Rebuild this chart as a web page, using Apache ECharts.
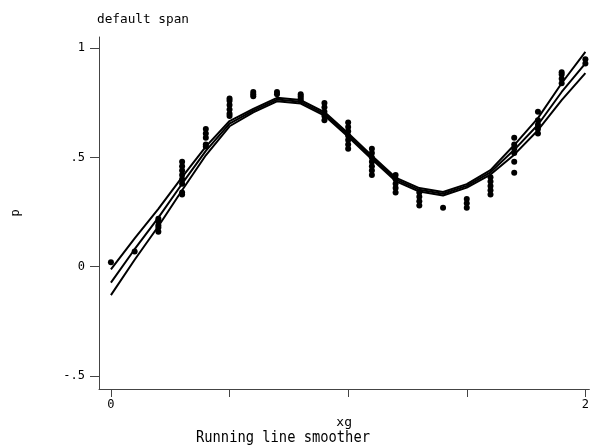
<!DOCTYPE html>
<html>
<head>
<meta charset="utf-8">
<script src="https://cdn.jsdelivr.net/npm/echarts@6/dist/echarts.min.js"></script>
<style>html,body{margin:0;padding:0;background:#fff}#c{width:592px;height:448px}</style>
</head>
<body>
<div id="c"></div>
<script>
// x grid values
var xs = [0, 0.1, 0.2, 0.3, 0.4, 0.5, 0.6, 0.7, 0.8, 0.9, 1.0, 1.1, 1.2, 1.3, 1.4, 1.5, 1.6, 1.7, 1.8, 1.9, 2.0];
// observed p values at each xg
var pObs = [
  [0.02],
  [0.07],
  [0.22, 0.21, 0.19, 0.18, 0.16],
  [0.48, 0.46, 0.44, 0.42, 0.40, 0.38, 0.34, 0.33],
  [0.63, 0.61, 0.59, 0.56, 0.55],
  [0.77, 0.76, 0.74, 0.72, 0.70, 0.69],
  [0.80, 0.79, 0.78],
  [0.80, 0.79],
  [0.79, 0.78, 0.77, 0.76],
  [0.75, 0.73, 0.71, 0.69, 0.67],
  [0.66, 0.64, 0.62, 0.60, 0.58, 0.56, 0.54],
  [0.54, 0.52, 0.50, 0.48, 0.46, 0.44, 0.42],
  [0.42, 0.40, 0.38, 0.36, 0.34],
  [0.34, 0.32, 0.30, 0.28],
  [0.27],
  [0.31, 0.29, 0.27],
  [0.41, 0.39, 0.37, 0.35, 0.33],
  [0.59, 0.56, 0.54, 0.52, 0.48, 0.43],
  [0.71, 0.67, 0.65, 0.63, 0.61],
  [0.89, 0.88, 0.86, 0.84],
  [0.95, 0.93]
];
// running line smoother curves
var smoothUpper = [-0.012, 0.13, 0.265, 0.41, 0.55, 0.667, 0.723, 0.773, 0.763, 0.708, 0.611, 0.508, 0.408, 0.36, 0.342, 0.378, 0.442, 0.557, 0.68, 0.84, 0.984];
var smoothMid   = [-0.073, 0.08, 0.225, 0.38, 0.53, 0.655, 0.715, 0.765, 0.755, 0.70, 0.603, 0.50, 0.40, 0.352, 0.334, 0.37, 0.432, 0.535, 0.65, 0.80, 0.931];
var smoothLower = [-0.130, 0.032, 0.185, 0.35, 0.51, 0.643, 0.707, 0.757, 0.747, 0.692, 0.595, 0.492, 0.392, 0.344, 0.326, 0.362, 0.422, 0.513, 0.625, 0.763, 0.886];
var xTicks = [0, 0.5, 1, 1.5, 2];
var xLabels = [0, 2];
var yTicks = [-0.5, 0, 0.5, 1];
var yTickText = {'-0.5': '-.5', '0': '0', '0.5': '.5', '1': '1'};

var FONT = 'DejaVu Sans Mono';
var scatterData = [];
xs.forEach(function (x, i) { pObs[i].forEach(function (p) { scatterData.push([x, p]); }); });
function pairs(arr) { return xs.map(function (x, i) { return [x, arr[i]]; }); }
function lineSeries(arr) {
  return { type: 'line', data: pairs(arr), symbol: 'none', smooth: false,
    lineStyle: { color: '#000', width: 2 }, z: 3, silent: true };
}

var chart = echarts.init(document.getElementById('c'), null, { renderer: 'canvas' });
chart.setOption({
  animation: false,
  backgroundColor: '#fff',
  grid: { left: 99, right: 0, top: 37, bottom: 59, containLabel: false },
  graphic: [
    { type: 'text', x: 97, y: 19.5, scaleX: 0.98,
      style: { text: 'default span', font: '13px "DejaVu Sans Mono"', fill: '#000', verticalAlign: 'middle', align: 'left' } },
    { type: 'text', x: 196, y: 438, scaleX: 0.86,
      style: { text: 'Running line smoother', font: '16px "DejaVu Sans Mono"', fill: '#000', verticalAlign: 'middle', align: 'left' } }
  ],
  xAxis: {
    type: 'value', min: -0.0503, max: 2.0168,
    name: 'xg', nameLocation: 'middle', nameGap: 27,
    nameTextStyle: { fontFamily: FONT, fontSize: 13, color: '#000' },
    axisLine: { onZero: false, lineStyle: { color: '#444', width: 1 } },
    axisTick: { customValues: xTicks, length: 8, lineStyle: { color: '#444' } },
    axisLabel: { customValues: xLabels, margin: 10, fontFamily: FONT, fontSize: 12, color: '#000' },
    splitLine: { show: false }
  },
  yAxis: {
    type: 'value', min: -0.56, max: 1.0517,
    name: 'p', nameLocation: 'middle', nameGap: 77, nameRotate: 90,
    nameTextStyle: { fontFamily: FONT, fontSize: 12, color: '#000' },
    axisLine: { show: true, onZero: false, lineStyle: { color: '#444', width: 1 } },
    axisTick: { show: true, customValues: yTicks, length: 9, lineStyle: { color: '#444' } },
    axisLabel: { customValues: yTicks, margin: 14, fontFamily: FONT, fontSize: 12, color: '#000',
      formatter: function (v) { var k = String(Math.round(v * 10) / 10); return yTickText[k] !== undefined ? yTickText[k] : k; } },
    splitLine: { show: false }
  },
  series: [
    { type: 'scatter', data: scatterData, symbol: 'circle', symbolSize: 6, itemStyle: { color: '#000', opacity: 1 }, z: 2 },
    lineSeries(smoothUpper),
    lineSeries(smoothMid),
    lineSeries(smoothLower)
  ]
});
</script>
</body>
</html>
